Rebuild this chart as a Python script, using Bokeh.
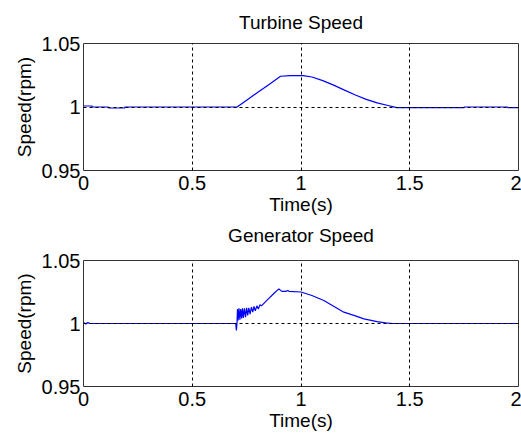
from bokeh.plotting import figure
from bokeh.layouts import column
from bokeh.models import FixedTicker, Range1d, Title
from bokeh.embed import file_html
from bokeh.resources import INLINE

# ---- data ----
turbine_time = [0.0, 0.04, 0.04, 0.115, 0.115, 0.19, 0.19, 0.706, 0.75, 0.80, 0.85, 0.906,
                0.95, 1.0, 1.01, 1.05, 1.10, 1.15, 1.20, 1.25, 1.30, 1.35, 1.40, 1.44,
                1.75, 1.75, 1.95, 1.95, 2.0]
turbine_speed = [1.0008, 1.0008, 1.0, 1.0, 0.9992, 0.9992, 1.0, 1.0, 1.0053, 1.0114, 1.0174, 1.0242,
                 1.0247, 1.0248, 1.0247, 1.0236, 1.0208, 1.0172, 1.0133, 1.0095, 1.0060, 1.0032, 1.0012, 0.9995,
                 0.9995, 1.0, 1.0, 0.9995, 0.9995]

generator_time = [0.0, 0.01, 0.02, 0.03, 0.700, 0.703, 0.706, 0.708, 0.711, 0.715, 0.719, 0.723,
                  0.727, 0.731, 0.735, 0.740, 0.745, 0.750, 0.755, 0.760, 0.766, 0.772,
                  0.778, 0.784, 0.790, 0.797, 0.804, 0.811, 0.818, 0.85, 0.875, 0.898,
                  0.912, 0.93, 0.94, 0.945, 1.0, 1.05, 1.105, 1.15, 1.197, 1.25, 1.289,
                  1.35, 1.389, 1.42, 2.0]
generator_speed = [1.0008, 0.9997, 1.0007, 1.0, 1.0, 0.9944, 1.001, 1.0115, 1.0025, 1.012, 1.003, 1.0115,
                   1.004, 1.012, 1.0045, 1.012, 1.005, 1.0125, 1.0065, 1.0125, 1.0075, 1.013,
                   1.009, 1.0135, 1.010, 1.014, 1.0115, 1.0148, 1.014, 1.0195, 1.0238, 1.0275,
                   1.0255, 1.0255, 1.0262, 1.0255, 1.0250, 1.0222, 1.0183, 1.0137, 1.0090, 1.0060, 1.0037,
                   1.0015, 1.0005, 1.0, 1.0]

x_ticks = [0, 0.5, 1, 1.5, 2]
x_tick_labels = ["0", "0.5", "1", "1.5", "2"]
y_ticks = [0.95, 1.0, 1.05]
y_tick_labels = ["0.95", "1", "1.05"]
titles = ["Turbine Speed", "Generator Speed"]
x_label = "Time(s)"
y_label = "Speed(rpm)"

FONT = "Liberation Sans"


def make_plot(title, t, v, top_border, frame_h, total_h, gap_px):
    p = figure(width=521, height=total_h, output_backend="svg", toolbar_location=None,
               x_range=Range1d(0, 2), y_range=Range1d(0.95, 1.05),
               min_border_left=83, min_border_right=3, min_border_top=top_border,
               min_border_bottom=total_h - top_border - frame_h,
               title=None)
    # spacer between frame and title, then the title itself (stacked outward)
    p.add_layout(Title(text=" ", text_font_size=f"{gap_px}px", standoff=0,
                       text_font=FONT), "above")
    p.add_layout(Title(text=title, align="center", text_font=FONT, text_font_size="19px",
                       text_font_style="normal", text_color="black", standoff=4), "above")

    p.line(t, v, line_color="#0000ff", line_width=1.2)

    p.xaxis.ticker = FixedTicker(ticks=x_ticks)
    p.yaxis.ticker = FixedTicker(ticks=y_ticks)
    p.xaxis.major_label_overrides = {tk: lb for tk, lb in zip(x_ticks, x_tick_labels)}
    p.yaxis.major_label_overrides = {tk: lb for tk, lb in zip(y_ticks, y_tick_labels)}
    p.xaxis.axis_label = x_label
    p.yaxis.axis_label = y_label

    for ax in (p.xaxis, p.yaxis):
        ax.major_tick_in = 0
        ax.major_tick_out = 0
        ax.minor_tick_in = 0
        ax.minor_tick_out = 0
        ax.axis_line_color = None
        ax.major_label_text_font = FONT
        ax.major_label_text_font_size = "20px"
        ax.major_label_text_color = "black"
        ax.axis_label_text_font = FONT
        ax.axis_label_text_font_size = "19px"
        ax.axis_label_text_font_style = "normal"
        ax.axis_label_text_color = "black"
    p.xaxis.major_label_standoff = 5
    p.xaxis.axis_label_standoff = 1
    p.yaxis.major_label_standoff = 3
    p.yaxis.axis_label_standoff = 4

    p.grid.grid_line_color = "black"
    p.grid.grid_line_dash = "3 3"
    p.grid.grid_line_width = 1
    p.grid.level = "overlay"

    p.outline_line_color = "#333333"
    p.outline_line_width = 1
    p.background_fill_color = "white"
    p.border_fill_color = "white"
    return p


p1 = make_plot(titles[0], turbine_time, turbine_speed, 43, 127, 220, 7)
p2 = make_plot(titles[1], generator_time, generator_speed, 40, 126, 216, 10)

layout = column(p1, p2, spacing=0)
open("out.html", "w").write(file_html(layout, INLINE))
